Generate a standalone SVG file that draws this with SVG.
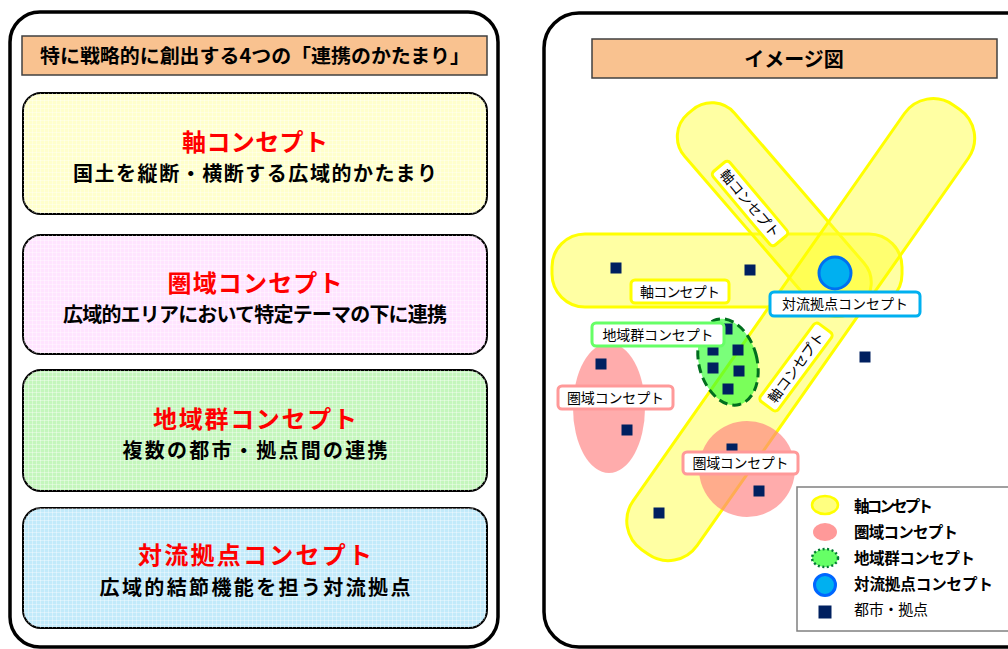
<svg xmlns="http://www.w3.org/2000/svg" width="1008" height="649" viewBox="0 0 1008 649">
<defs>
<pattern id="grid" patternUnits="userSpaceOnUse" width="4" height="4">
<path d="M0 0.5H4M0.5 0V4" stroke="#ffffff" stroke-opacity="0.45" stroke-width="0.8" fill="none"/>
</pattern>
<style>
.jp{font-family:"Noto Sans CJK JP","Noto Sans CJK SC",sans-serif;}
.panel{fill:#ffffff;stroke:#000000;stroke-width:3.5;}
.head{fill:#F9C290;stroke:#404040;stroke-width:1.5;}
.headt{font-size:19.5px;font-weight:bold;fill:#000000;text-anchor:middle;}
.box{stroke:#000000;stroke-width:2;}
.ttl{font-size:24px;font-weight:bold;fill:#FF0000;text-anchor:middle;}
.sub{font-size:20px;font-weight:bold;fill:#000000;text-anchor:middle;}
.cap{fill:#FFFF33;fill-opacity:0.45;stroke:#FFFF00;stroke-width:3;}
.ken{fill:#FF8080;fill-opacity:0.65;}
.city{fill:#002060;}
.lbl{fill:#ffffff;stroke-width:3;}
.lt{font-size:14px;fill:#000000;text-anchor:middle;}
.lg{font-size:15.5px;font-weight:bold;fill:#000000;}
</style>
</defs>
<rect width="1008" height="649" fill="#ffffff"/>

<g id="left-panel">
<rect class="panel" x="10" y="12" width="488" height="635" rx="30"/>
<g id="left-title">
<rect class="head" x="22" y="36" width="465" height="39"/>
<text class="jp headt" x="255" y="63" textLength="430" lengthAdjust="spacingAndGlyphs">特に戦略的に創出する4つの「連携のかたまり」</text>
</g>
<g id="box-jiku">
<rect class="box" x="23" y="93" width="464" height="121" rx="18" fill="#FFFFCC"/>
<rect x="23" y="93" width="464" height="121" rx="18" fill="url(#grid)"/>
<text class="jp ttl" x="255" y="150.5" textLength="146">軸コンセプト</text>
<text class="jp sub" x="255" y="181" textLength="364">国土を縦断・横断する広域的かたまり</text>
</g>
<g id="box-kenki">
<rect class="box" x="23" y="235" width="464" height="119" rx="18" fill="#FFE4FF"/>
<rect x="23" y="235" width="464" height="119" rx="18" fill="url(#grid)"/>
<text class="jp ttl" x="255" y="292" textLength="175">圏域コンセプト</text>
<text class="jp sub" x="255" y="321.5" textLength="384">広域的エリアにおいて特定テーマの下に連携</text>
</g>
<g id="box-chiikigun">
<rect class="box" x="23" y="370" width="464" height="121" rx="18" fill="#C4F6BC"/>
<rect x="23" y="370" width="464" height="121" rx="18" fill="url(#grid)"/>
<text class="jp ttl" x="255" y="427.5" textLength="204">地域群コンセプト</text>
<text class="jp sub" x="255" y="458" textLength="265">複数の都市・拠点間の連携</text>
</g>
<g id="box-tairyu">
<rect class="box" x="23" y="508" width="464" height="120" rx="18" fill="#C2EAFA"/>
<rect x="23" y="508" width="464" height="120" rx="18" fill="url(#grid)"/>
<text class="jp ttl" x="255" y="564" textLength="234">対流拠点コンセプト</text>
<text class="jp sub" x="255" y="594.5" textLength="311">広域的結節機能を担う対流拠点</text>
</g>
</g>

<g id="right-panel">
<rect class="panel" x="544" y="13" width="520" height="634" rx="35"/>
<g id="right-title">
<rect class="head" x="592" y="39" width="405" height="39"/>
<text class="jp headt" x="794" y="66.5" style="font-size:20px">イメージ図</text>
</g>
</g>

<g id="image">
<g id="axis-shapes">
<rect class="cap" x="552" y="234" width="350" height="73" rx="33"/>
<rect class="cap" x="0" y="-33" width="258" height="66" rx="30" transform="translate(690 112) rotate(49.2)"/>
<rect class="cap" x="0" y="-39" width="543" height="78" rx="35" transform="translate(645 552) rotate(-55)"/>
</g>
<g id="kenki-shapes">
<ellipse class="ken" cx="609" cy="408" rx="36" ry="65"/>
<circle class="ken" cx="747" cy="469" r="48"/>
</g>
<g id="chiikigun-shape">
<ellipse cx="728" cy="362" rx="29" ry="44" transform="rotate(-15 728 362)" fill="#33FF33" fill-opacity="0.65" stroke="#006E1E" stroke-width="3" stroke-dasharray="9 5"/>
</g>
<g id="tairyu-shape">
<circle cx="835" cy="273" r="16" fill="#00B0F0" stroke="#0070F0" stroke-width="3"/>
</g>
<g id="cities">
<rect class="city" x="610.5" y="262.5" width="11" height="11"/>
<rect class="city" x="744.5" y="264.5" width="11" height="11"/>
<rect class="city" x="595.5" y="358.5" width="11" height="11"/>
<rect class="city" x="621.5" y="424.5" width="11" height="11"/>
<rect class="city" x="721.5" y="323.5" width="11" height="11"/>
<rect class="city" x="707.5" y="344.5" width="11" height="11"/>
<rect class="city" x="732.5" y="344.5" width="11" height="11"/>
<rect class="city" x="707.5" y="362.5" width="11" height="11"/>
<rect class="city" x="733.5" y="365.5" width="11" height="11"/>
<rect class="city" x="722.5" y="383.5" width="11" height="11"/>
<rect class="city" x="726.5" y="443.5" width="11" height="11"/>
<rect class="city" x="753.5" y="485.5" width="11" height="11"/>
<rect class="city" x="653.5" y="507.5" width="11" height="11"/>
<rect class="city" x="859.5" y="351.5" width="11" height="11"/>
</g>
<g id="labels">
<g id="label-jiku-h">
<rect class="lbl" x="631" y="280" width="98" height="23" rx="4" stroke="#FFFF00"/>
<text class="jp lt" x="680" y="296.7" textLength="80">軸コンセプト</text>
</g>
<g id="label-jiku-d1" transform="translate(750 203.5) rotate(50)">
<rect class="lbl" x="-48" y="-11" width="96" height="22" rx="4" stroke="#FFFF00"/>
<text class="jp lt" x="0" y="5.3" textLength="84">軸コンセプト</text>
</g>
<g id="label-jiku-d2" transform="translate(796 367) rotate(-53.5)">
<rect class="lbl" x="-48.5" y="-11" width="97" height="22" rx="4" stroke="#FFFF00"/>
<text class="jp lt" x="0" y="5.3" textLength="84">軸コンセプト</text>
</g>
<g id="label-tairyu">
<rect class="lbl" x="770" y="292" width="150" height="24" rx="4" stroke="#00B0F0"/>
<text class="jp lt" x="845" y="309.3" textLength="126">対流拠点コンセプト</text>
</g>
<g id="label-chiikigun">
<rect class="lbl" x="592" y="323" width="132" height="23" rx="4" stroke="#66FF66"/>
<text class="jp lt" x="658" y="339.7" textLength="111">地域群コンセプト</text>
</g>
<g id="label-kenki-1">
<rect class="lbl" x="558" y="386" width="115" height="23" rx="4" stroke="#FF9999"/>
<text class="jp lt" x="615.5" y="402.7" textLength="97">圏域コンセプト</text>
</g>
<g id="label-kenki-2">
<rect class="lbl" x="683" y="452" width="115" height="22" rx="4" stroke="#FF9999"/>
<text class="jp lt" x="740.5" y="468.2" textLength="96">圏域コンセプト</text>
</g>
</g>
</g>

<g id="legend">
<rect x="797" y="487" width="230" height="144" fill="#ffffff" stroke="#808080" stroke-width="1.5"/>
<ellipse cx="825" cy="505" rx="13" ry="9" fill="#FFFF80" stroke="#FFFF00" stroke-width="2.5"/>
<ellipse cx="825" cy="532" rx="12" ry="9" fill="#FF9999"/>
<ellipse cx="825" cy="558" rx="13" ry="9" fill="#66FF66" stroke="#007A33" stroke-width="2.5" stroke-dasharray="2 2.5"/>
<circle cx="825" cy="585" r="10.5" fill="#00B0F0" stroke="#0066FF" stroke-width="3"/>
<rect x="818.5" y="605.5" width="13" height="13" fill="#002060"/>
<text class="jp lg" x="854" y="511.5" textLength="79">軸コンセプト</text>
<text class="jp lg" x="854" y="538" textLength="104">圏域コンセプト</text>
<text class="jp lg" x="854" y="563.5" textLength="121">地域群コンセプト</text>
<text class="jp lg" x="854" y="589.5" textLength="139">対流拠点コンセプト</text>
<text class="jp" x="854" y="615" textLength="74" style="font-size:15px;fill:#000000">都市・拠点</text>
</g>
</svg>
